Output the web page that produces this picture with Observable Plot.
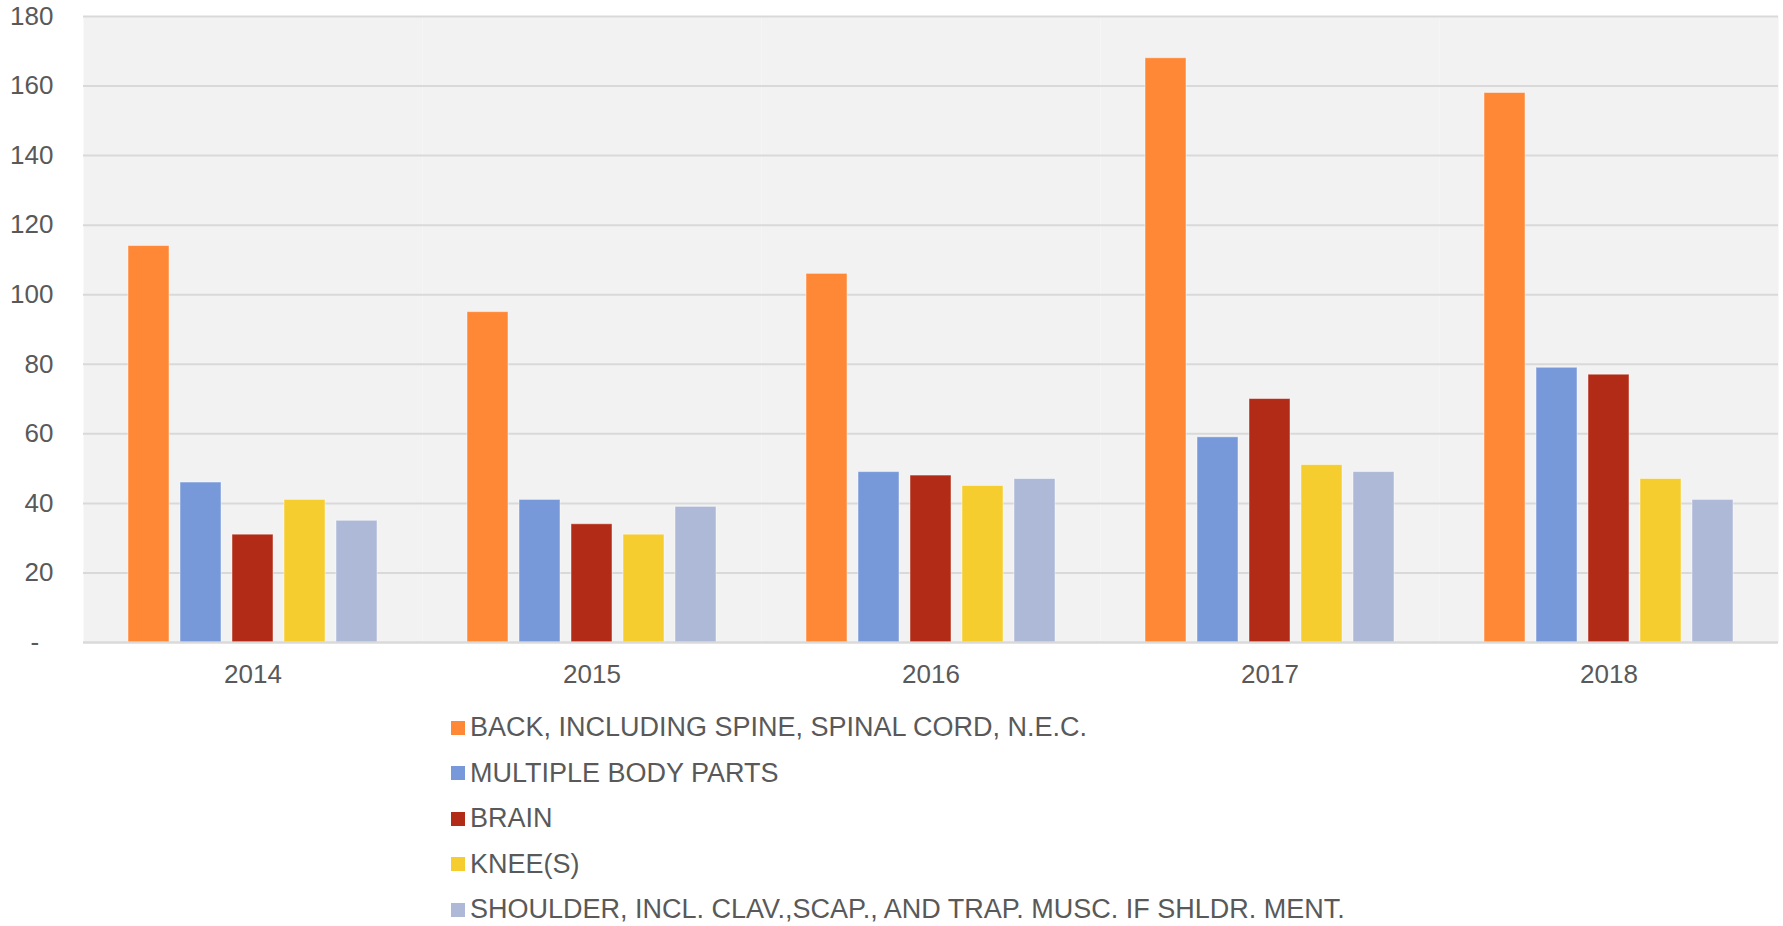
<!DOCTYPE html>
<html>
<head>
<meta charset="utf-8">
<script src="https://cdn.jsdelivr.net/npm/d3@7"></script>
<script src="https://cdn.jsdelivr.net/npm/@observablehq/plot@0.6"></script>
<style>
  html, body { margin: 0; padding: 0; background: #ffffff; }
  #legend { margin-top: 5px; padding-left: 451px; font-family: "Liberation Sans", Arial, sans-serif; font-size: 27px; color: #595959; }
  .item { display: flex; align-items: center; height: 45.5px; }
  .sw { width: 14px; height: 14px; margin-right: 5px; flex: none; }
</style>
</head>
<body>
<div id="chart"></div>
<div id="legend"></div>
<script>
const years = ["2014", "2015", "2016", "2017", "2018"];
const seriesNames = [
  "BACK, INCLUDING SPINE, SPINAL CORD, N.E.C.",
  "MULTIPLE BODY PARTS",
  "BRAIN",
  "KNEE(S)",
  "SHOULDER, INCL. CLAV.,SCAP., AND TRAP. MUSC. IF SHLDR. MENT."
];
const back = [114, 95, 106, 168, 158];
const multiple = [46, 41, 49, 59, 79];
const brain = [31, 34, 48, 70, 77];
const knee = [41, 31, 45, 51, 47];
const shoulder = [35, 39, 47, 49, 41];
const colors = ["#FF8837", "#7799D9", "#B22B17", "#F5CD2F", "#ADB9D7"];
const yTicks = [0, 20, 40, 60, 80, 100, 120, 140, 160, 180];

const valuesBySeries = [back, multiple, brain, knee, shoulder];
const table = years.flatMap((year, i) =>
  seriesNames.map((s, j) => ({year, series: s, value: valuesBySeries[j][i]}))
);

const chart = Plot.plot({
  width: 1783,
  height: 700,
  marginLeft: 83,
  marginRight: 5,
  marginTop: 16,
  marginBottom: 58,
  style: {fontFamily: "'Liberation Sans', Arial, sans-serif", fontSize: "26px", color: "#595959", background: "#ffffff"},
  fx: {domain: years, padding: 0, label: null, axis: "bottom", tickSize: 0, tickPadding: 22},
  x: {domain: seriesNames, paddingInner: 0.2115, paddingOuter: 0.865, axis: null},
  y: {domain: [0, 180]},
  color: {domain: seriesNames, range: colors},
  marks: [
    Plot.frame({fill: "#f2f2f2", stroke: null}),
    Plot.gridY(yTicks, {stroke: "#d9d9d9", strokeOpacity: 1, strokeWidth: 2}),
    Plot.axisY(yTicks, {tickSize: 0, tickPadding: 30, label: null, tickFormat: d => d === 0 ? "-\u2007" : String(d)}),
    Plot.barY(table, {fx: "year", x: "series", y: "value", fill: "series", stroke: "#ffffff", strokeOpacity: 0.45, strokeWidth: 1}),
    Plot.ruleY([0], {stroke: "#d9d9d9", strokeWidth: 2})
  ]
});
document.getElementById("chart").appendChild(chart);

const legend = document.getElementById("legend");
seriesNames.forEach((s, j) => {
  const item = document.createElement("div");
  item.className = "item";
  const sw = document.createElement("span");
  sw.className = "sw";
  sw.style.background = colors[j];
  const label = document.createElement("span");
  label.textContent = s;
  item.appendChild(sw);
  item.appendChild(label);
  legend.appendChild(item);
});
</script>
</body>
</html>
